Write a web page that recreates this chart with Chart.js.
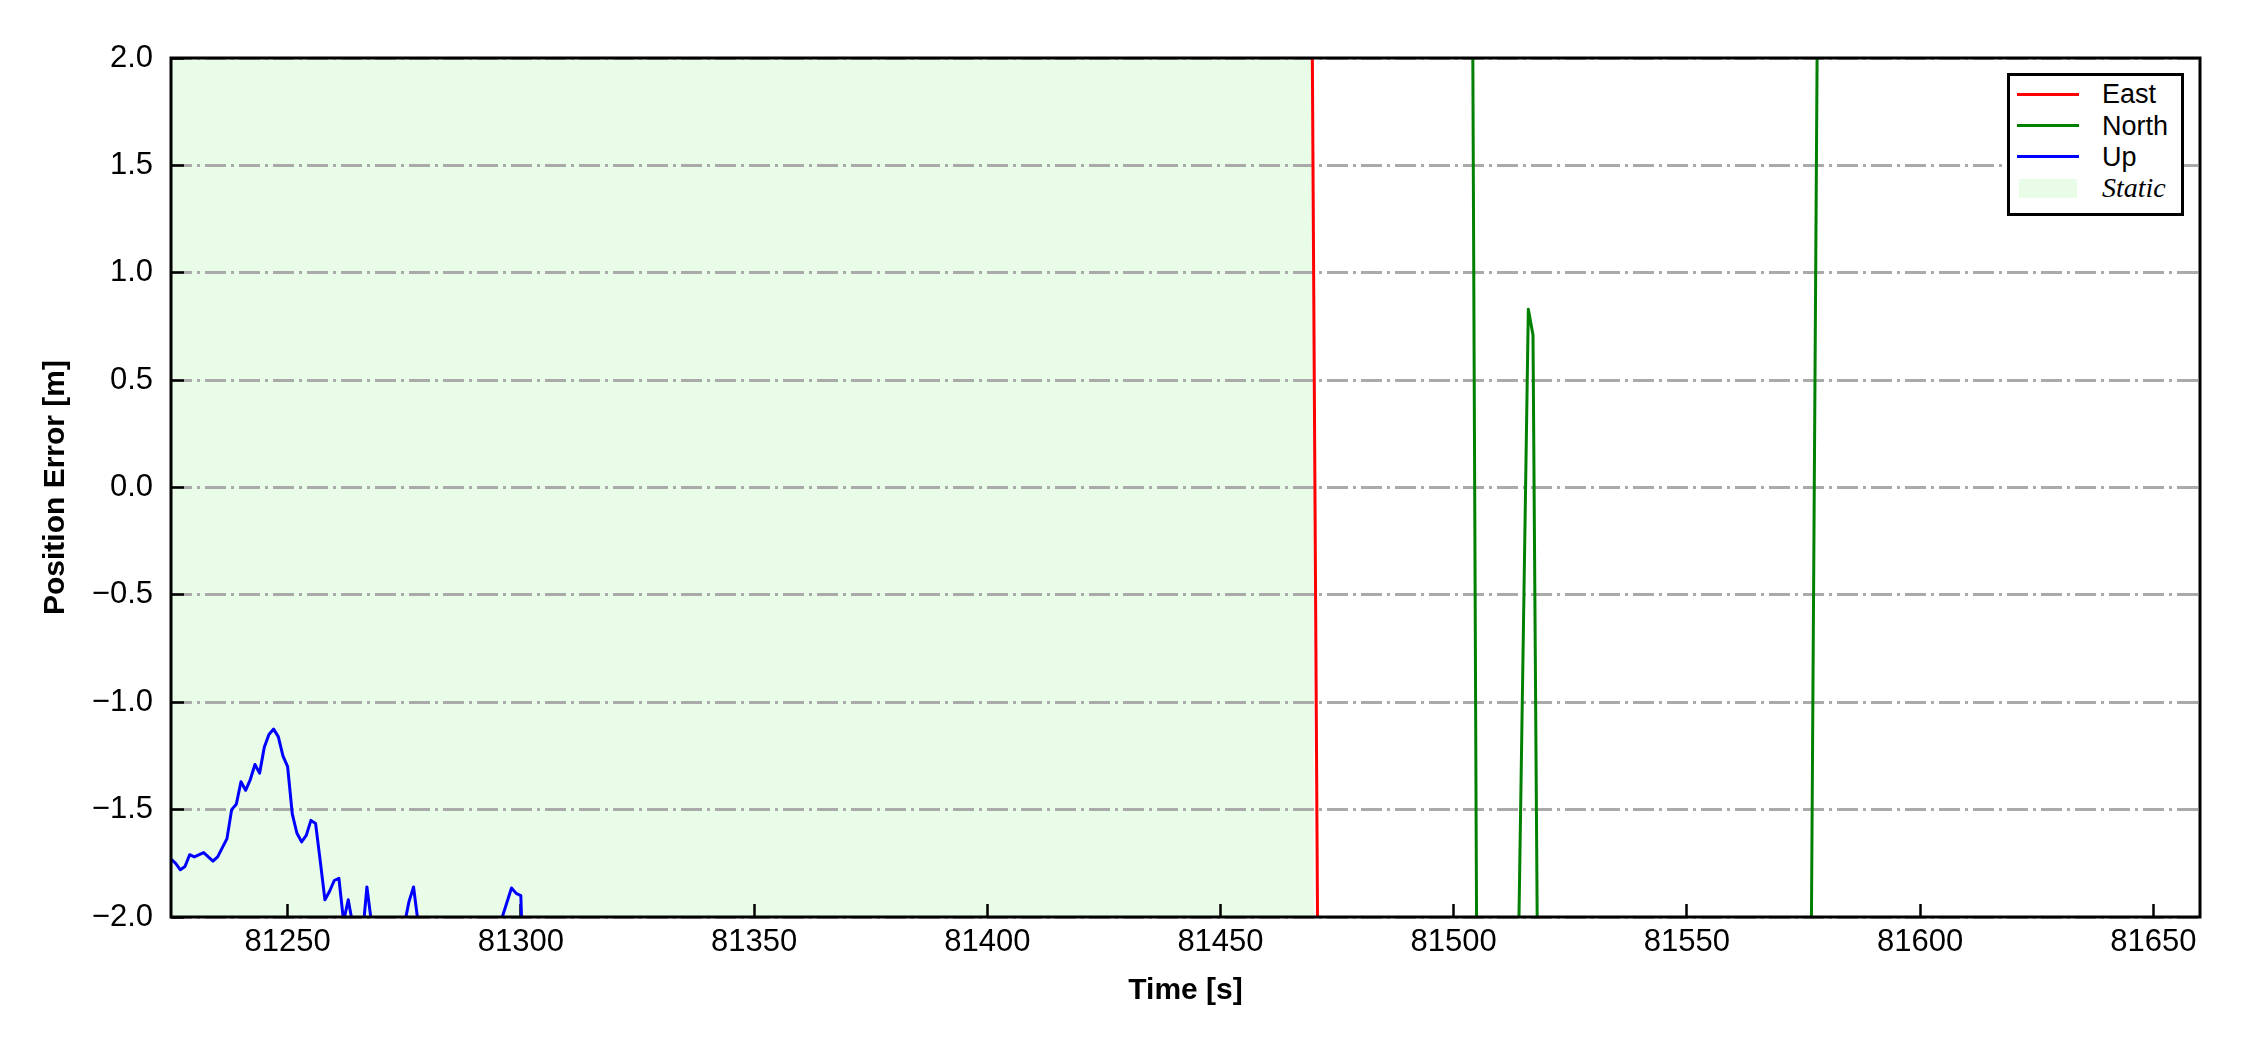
<!DOCTYPE html>
<html>
<head>
<meta charset="utf-8">
<script src="https://cdn.jsdelivr.net/npm/chart.js@4.4.1/dist/chart.umd.min.js"></script>
<style>
    html, body { margin: 0; padding: 0; background: #fff; }
    #wrap { position: relative; width: 2250px; height: 1050px; }
    #legendBox {
        position: absolute; left: 2007px; top: 73px; width: 177px; height: 143px;
        box-sizing: border-box; border: 3px solid #000; background: #fff;
    }
    .lg-line { position: absolute; height: 3px; }
    .lg-patch { position: absolute; }
    .lg-text {
        position: absolute; font-family: 'Liberation Sans', Arial, sans-serif;
        font-size: 27px; line-height: 32px; white-space: nowrap; color: #000;
    }
    .lg-text.serif { font-family: 'Liberation Serif', 'Times New Roman', serif; font-style: italic; font-size: 28px; }
</style>
</head>
<body>
<div id="wrap">
    <canvas id="errChart"></canvas>
    <div id="legendBox"></div>
</div>
<script>
// axis setup
const xMin = 81225;
const xMax = 81660;
const xTickValues = [81250, 81300, 81350, 81400, 81450, 81500, 81550, 81600, 81650];
const yTickValues = [-2.0, -1.5, -1.0, -0.5, 0.0, 0.5, 1.0, 1.5, 2.0];

// static period (shaded)
const staticStart = 81225;
const staticEnd = 81470;
const staticColor = '#e8fce8';

// East error [m] (off-scale except the crossing)
const eastTime  = [81225, 81469, 81471, 81660];
const eastError = [4.5, 4.5, -2.7, -2.7];

// North error [m]
const northTime  = [81225, 81504, 81505, 81513, 81516, 81517, 81518, 81576, 81578, 81660];
const northError = [2.5, 2.5, -2.5, -3.4, 0.83, 0.71, -2.3, -4.3, 2.3, 2.3];

// Up error [m]
const upTime = [81225, 81226, 81227, 81228, 81229, 81230, 81232, 81234, 81235, 81237,
                81238, 81239, 81240, 81241, 81242, 81243, 81244, 81245, 81246, 81247,
                81248, 81249, 81250, 81251, 81252, 81253, 81254, 81255, 81256, 81257,
                81258, 81259, 81260, 81261, 81262, 81263, 81264, 81266, 81267, 81268,
                81270, 81274, 81276, 81277, 81278, 81279, 81285, 81295, 81298, 81299,
                81300, 81301, 81330, 81660];
const upError = [-1.73, -1.75, -1.78, -1.765, -1.71, -1.72, -1.70, -1.74, -1.72, -1.635,
                 -1.50, -1.475, -1.37, -1.41, -1.36, -1.29, -1.33, -1.21, -1.15, -1.125,
                 -1.16, -1.25, -1.30, -1.52, -1.61, -1.65, -1.62, -1.55, -1.565, -1.74,
                 -1.92, -1.88, -1.83, -1.82, -2.02, -1.92, -2.04, -2.1, -1.86, -2.03,
                 -2.5, -2.15, -1.93, -1.86, -2.03, -2.3, -2.4, -2.07, -1.865, -1.89,
                 -1.90, -2.6, -2.8, -3.0];

const tickFont = { family: "'Liberation Sans', Arial, sans-serif", size: 31 };
const titleFont = { family: "'Liberation Sans', Arial, sans-serif", size: 30, weight: 'bold' };

function toPoints(times, values) {
    return times.map((t, i) => ({ x: t, y: values[i] }));
}

function fmtY(v) {
    const s = Math.abs(v).toFixed(1);
    return v < 0 ? '\u2212' + s : s;
}

// shaded static period, drawn under the grid
const staticSpan = {
    id: 'staticSpan',
    beforeDraw(chart) {
        const { ctx, chartArea, scales } = chart;
        const x0 = Math.max(scales.x.getPixelForValue(staticStart), chartArea.left);
        const x1 = Math.min(scales.x.getPixelForValue(staticEnd), chartArea.right);
        ctx.save();
        ctx.fillStyle = staticColor;
        ctx.fillRect(x0, chartArea.top, x1 - x0, chartArea.bottom - chartArea.top);
        ctx.restore();
    }
};

// black box around the plot
const frame = {
    id: 'frame',
    afterDraw(chart) {
        const { ctx, chartArea } = chart;
        ctx.save();
        ctx.strokeStyle = '#000';
        ctx.lineWidth = 3;
        ctx.strokeRect(chartArea.left, chartArea.top, chartArea.right - chartArea.left, chartArea.bottom - chartArea.top);
        ctx.restore();
    }
};

function lineSet(label, color, times, values) {
    return {
        label: label,
        data: toPoints(times, values),
        borderColor: color,
        backgroundColor: color,
        borderWidth: 3,
        pointRadius: 0,
        tension: 0,
        fill: false,
        borderJoinStyle: 'round',
        clip: 0
    };
}

function buildLegend(chart) {
    const box = document.getElementById('legendBox');
    box.innerHTML = '';
    const rowY0 = 18.3, rowStep = 31.3;
    chart.data.datasets.forEach((ds, i) => {
        const cy = rowY0 + i * rowStep;
        const ln = document.createElement('div');
        ln.className = 'lg-line';
        ln.style.left = '7px';
        ln.style.width = '62px';
        ln.style.top = (cy - 1.5) + 'px';
        ln.style.background = ds.borderColor;
        box.appendChild(ln);
        const tx = document.createElement('div');
        tx.className = 'lg-text';
        tx.style.left = '92px';
        tx.style.top = (cy - 16) + 'px';
        tx.textContent = ds.label;
        box.appendChild(tx);
    });
    const cy = rowY0 + 3 * rowStep;
    const patch = document.createElement('div');
    patch.className = 'lg-patch';
    patch.style.left = '9px';
    patch.style.width = '58px';
    patch.style.top = (cy - 9.5) + 'px';
    patch.style.height = '19px';
    patch.style.background = staticColor;
    box.appendChild(patch);
    const tx = document.createElement('div');
    tx.className = 'lg-text serif';
    tx.style.left = '92px';
    tx.style.top = (cy - 16) + 'px';
    tx.textContent = 'Static';
    box.appendChild(tx);
}

const ctx = document.getElementById('errChart').getContext('2d');
const errChart = new Chart(ctx, {
    type: 'line',
    data: {
        datasets: [
            lineSet('East', '#ff0000', eastTime, eastError),
            lineSet('North', '#008000', northTime, northError),
            lineSet('Up', '#0000ff', upTime, upError)
        ]
    },
    options: {
        responsive: true,
        maintainAspectRatio: false,
        animation: false,
        layout: { padding: { left: 0, top: 58, right: 50, bottom: 0 } },
        plugins: {
            legend: { display: false },
            tooltip: { enabled: false }
        },
        scales: {
            x: {
                type: 'linear',
                min: xMin,
                max: xMax,
                afterBuildTicks: s => { s.ticks = xTickValues.map(v => ({ value: v })); },
                afterFit: s => { s.height = 133; },
                grid: { drawOnChartArea: false, drawTicks: true, tickLength: -13, tickWidth: 2.5, tickColor: '#000' },
                border: { display: false },
                ticks: { padding: 20, color: '#000', font: tickFont, maxRotation: 0, autoSkip: false, callback: v => String(v) },
                title: { display: true, text: 'Time [s]', color: '#000', font: titleFont, padding: { top: 0, bottom: 41 } }
            },
            y: {
                type: 'linear',
                min: -2,
                max: 2,
                afterBuildTicks: s => { s.ticks = yTickValues.map(v => ({ value: v })); },
                afterFit: s => { s.width = 171; },
                grid: { color: '#aaaaaa', lineWidth: 3, drawTicks: true, tickLength: -13, tickWidth: 2.5, tickColor: '#000' },
                border: { display: false, dash: [21, 5, 3, 5] },
                ticks: { padding: 31, color: '#000', font: tickFont, autoSkip: false, callback: v => fmtY(v) },
                title: { display: true, text: 'Position Error [m]', color: '#000', font: titleFont, padding: { top: 38, bottom: 0 } }
            }
        }
    },
    plugins: [staticSpan, frame]
});

buildLegend(errChart);
</script>
</body>
</html>
